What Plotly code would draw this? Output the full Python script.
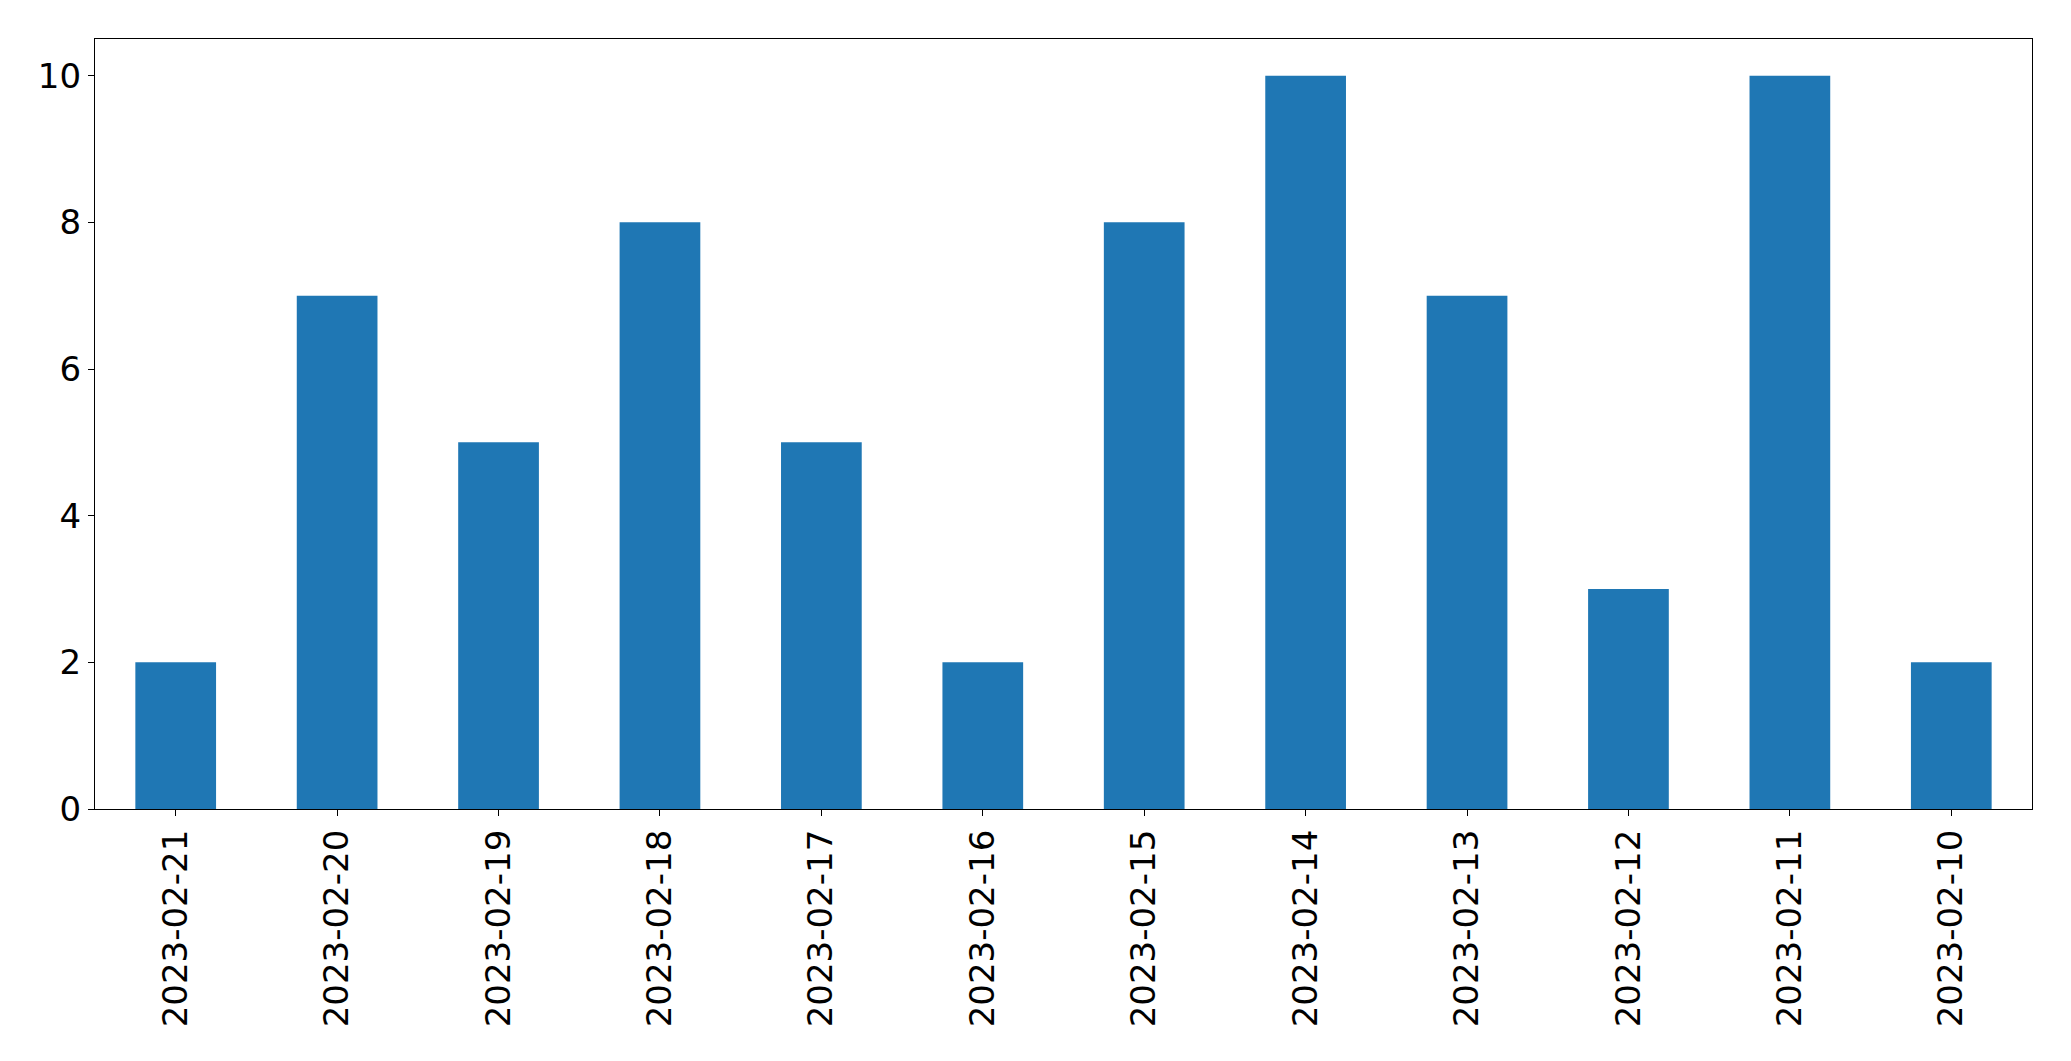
import plotly.graph_objects as go

dates = ["2023-02-21", "2023-02-20", "2023-02-19", "2023-02-18", "2023-02-17", "2023-02-16",
         "2023-02-15", "2023-02-14", "2023-02-13", "2023-02-12", "2023-02-11", "2023-02-10"]
counts = [2, 7, 5, 8, 5, 2, 8, 10, 7, 3, 10, 2]
y_ticks = [0, 2, 4, 6, 8, 10]

fig = go.Figure(go.Bar(x=dates, y=counts, marker=dict(color="#1f77b4", line=dict(width=0)), width=0.5))

W, H = 2055, 1045
fig.update_layout(
    width=W, height=H,
    margin=dict(l=87, r=31, t=31, b=244, autoexpand=False),
    plot_bgcolor="white", paper_bgcolor="white",
    font=dict(family="DejaVu Sans", size=34, color="black"),
    showlegend=False, bargap=0.5,
)
fig.update_xaxes(type="category", range=[-0.5, len(dates) - 0.5], tickangle=-90,
                 showline=True, linecolor="black", linewidth=1.3, mirror=True,
                 ticks="outside", ticklen=6, tickwidth=1.3, tickcolor="black",
                 showgrid=False, zeroline=False, ticklabelstandoff=0)
fig.update_yaxes(range=[0, 10.5], tickvals=y_ticks,
                 showline=True, linecolor="black", linewidth=1.3, mirror=True,
                 ticks="outside", ticklen=6, tickwidth=1.3, tickcolor="black",
                 showgrid=False, zeroline=False, ticklabelstandoff=0)
fig.write_html("out.html")
